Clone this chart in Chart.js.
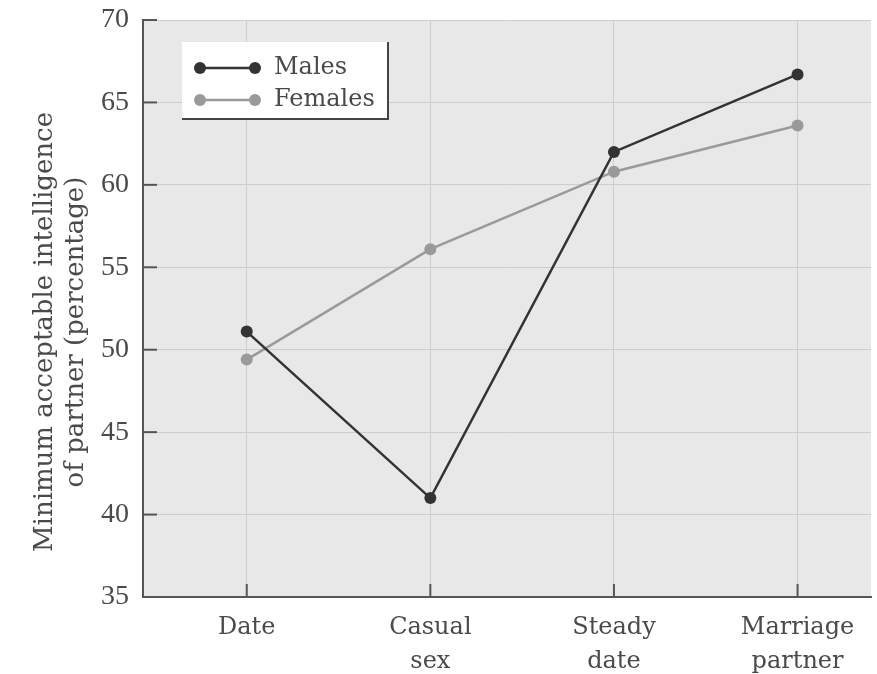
<!DOCTYPE html>
<html>
<head>
<meta charset="utf-8">
<script src="https://cdn.jsdelivr.net/npm/chart.js@4/dist/chart.umd.min.js"></script>
<style>
  html, body { margin: 0; padding: 0; background: #fff; }
  #wrap { width: 877px; height: 674px; }
</style>
</head>
<body>
<div id="wrap"><canvas id="chart" width="877" height="674"></canvas></div>
<script>
// Données
const categories = [["Date"], ["Casual", "sex"], ["Steady", "date"], ["Marriage", "partner"]];
const males = [51.1, 41.0, 62.0, 66.7];
const females = [49.4, 56.1, 60.8, 63.6];
const yTicks = [35, 40, 45, 50, 55, 60, 65, 70];
const seriesNames = ["Males", "Females"];
const yTitle = ["Minimum acceptable intelligence", "of partner (percentage)"];

const textColor = "#4a4a4a";
const maleColor = "#333333";
const femaleColor = "#9a9a9a";

// fond gris de la zone de tracé
const backgroundPlugin = {
    id: "plotBackground",
    beforeDraw(chart) {
        const { ctx, chartArea } = chart;
        ctx.save();
        ctx.fillStyle = "#e8e8e8";
        ctx.fillRect(chartArea.left, chartArea.top, chartArea.right - chartArea.left, chartArea.bottom - chartArea.top);
        ctx.restore();
    }
};

// graduations vers l'intérieur, titre de l'axe Y et légende
const extrasPlugin = {
    id: "extras",
    afterDraw(chart) {
        const { ctx, chartArea, scales } = chart;
        ctx.save();
        ctx.strokeStyle = "#555";
        ctx.lineWidth = 2;
        yTicks.forEach(v => {
            const y = scales.y.getPixelForValue(v);
            ctx.beginPath();
            ctx.moveTo(chartArea.left, y);
            ctx.lineTo(chartArea.left + 14, y);
            ctx.stroke();
        });
        categories.forEach((c, i) => {
            const x = scales.x.getPixelForValue(i);
            ctx.beginPath();
            ctx.moveTo(x, chartArea.bottom);
            ctx.lineTo(x, chartArea.bottom - 13);
            ctx.stroke();
        });

        // Titre de l'axe Y (deux lignes centrées)
        ctx.save();
        ctx.translate(0, 332);
        ctx.rotate(-Math.PI / 2);
        ctx.fillStyle = textColor;
        ctx.font = "26px 'DejaVu Serif'";
        ctx.textAlign = "center";
        ctx.textBaseline = "middle";
        ctx.fillText(yTitle[0], 0, 45);
        ctx.fillText(yTitle[1], 0, 76);
        ctx.restore();

        // Légende
        const lx = 182, ly = 42, lw = 206, lh = 77;
        ctx.fillStyle = "#ffffff";
        ctx.fillRect(lx, ly, lw, lh);
        ctx.strokeStyle = "#444";
        ctx.lineWidth = 2;
        ctx.beginPath();
        ctx.moveTo(lx, ly + lh);
        ctx.lineTo(lx + lw, ly + lh);
        ctx.lineTo(lx + lw, ly);
        ctx.stroke();

        const rows = [
            { name: seriesNames[0], color: maleColor, y: 68 },
            { name: seriesNames[1], color: femaleColor, y: 100 }
        ];
        rows.forEach(r => {
            ctx.strokeStyle = r.color;
            ctx.lineWidth = 2.5;
            ctx.beginPath();
            ctx.moveTo(200, r.y);
            ctx.lineTo(255, r.y);
            ctx.stroke();
            ctx.fillStyle = r.color;
            [200, 255].forEach(px => {
                ctx.beginPath();
                ctx.arc(px, r.y, 6, 0, Math.PI * 2);
                ctx.fill();
            });
            ctx.fillStyle = textColor;
            ctx.font = "24px 'DejaVu Serif'";
            ctx.textBaseline = "middle";
            ctx.fillText(r.name, 274, r.y);
        });
        ctx.restore();
    }
};

const toPoints = arr => arr.map((v, i) => ({ x: i, y: v }));

new Chart(document.getElementById("chart").getContext("2d"), {
    type: "line",
    data: {
        datasets: [
            {
                label: seriesNames[0],
                data: toPoints(males),
                borderColor: maleColor,
                backgroundColor: maleColor,
                borderWidth: 2.5,
                pointRadius: 6,
                pointBorderWidth: 0,
                tension: 0
            },
            {
                label: seriesNames[1],
                data: toPoints(females),
                borderColor: femaleColor,
                backgroundColor: femaleColor,
                borderWidth: 2.5,
                pointRadius: 6,
                pointBorderWidth: 0,
                tension: 0
            }
        ]
    },
    options: {
        responsive: false,
        animation: false,
        layout: { padding: { top: 20, right: 5, left: 0, bottom: 0 } },
        plugins: {
            legend: { display: false },
            tooltip: { enabled: false }
        },
        scales: {
            x: {
                type: "linear",
                min: -0.565,
                max: 3.40,
                afterBuildTicks: scale => {
                    scale.ticks = categories.map((c, i) => ({ value: i }));
                },
                afterFit: scale => {
                    scale.height = 77;
                    scale.paddingLeft = 0;
                    scale.paddingRight = 0;
                },
                ticks: {
                    autoSkip: false,
                    maxRotation: 0,
                    color: textColor,
                    font: { family: "DejaVu Serif", size: 24, lineHeight: 1.4 },
                    padding: 14,
                    callback: v => categories[v]
                },
                grid: { color: "#cdcdcd", lineWidth: 1, drawTicks: false },
                border: { color: "#555", width: 2 }
            },
            y: {
                min: 35,
                max: 70,
                afterBuildTicks: scale => {
                    scale.ticks = yTicks.map(v => ({ value: v }));
                },
                afterFit: scale => {
                    scale.width = 143;
                    scale.paddingTop = 0;
                    scale.paddingBottom = 0;
                },
                ticks: {
                    color: textColor,
                    font: { family: "Liberation Serif", size: 28 },
                    padding: 14
                },
                grid: { color: "#cdcdcd", lineWidth: 1, drawTicks: false },
                border: { color: "#555", width: 2 }
            }
        }
    },
    plugins: [backgroundPlugin, extrasPlugin]
});
</script>
</body>
</html>
